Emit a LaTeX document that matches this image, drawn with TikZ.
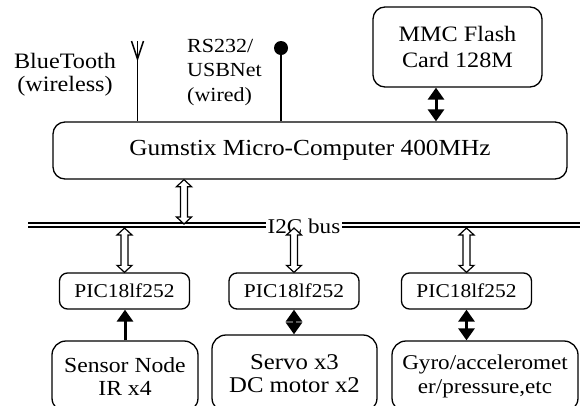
\documentclass[tikz,border=0pt]{standalone}
\usepackage{fontspec}
\setmainfont{Liberation Serif}[FakeStretch=1.1]
\usetikzlibrary{arrows.meta,calc}
\tikzset{
  box/.style={draw, line width=1.3pt, rounded corners=12pt, inner sep=0pt, align=center},
  picbox/.style={box, rounded corners=8pt, minimum width=130pt, minimum height=36pt, font=\fontsize{19.5}{21}\selectfont},
  botbox/.style={box, rounded corners=14pt},
  hollow/.style={draw, fill=white, line width=1.2pt, line join=miter},
  blk/.style={line width=3pt, {Triangle[width=16pt,length=12pt]}-{Triangle[width=16pt,length=12pt]}},
  blkone/.style={line width=3pt, -{Triangle[width=16pt,length=12pt]}},
  wire/.style={line width=1.5pt},
  busline/.style={line width=2pt, double distance=2pt}
}
\newcommand\hollowarr[2]{%
  \path let \p1=(#1), \p2=(#2) in
  [hollow] (\x1,\y1) -- ({\x1+7.5pt},{\y1-7pt}) -- ({\x1+3.5pt},{\y1-7pt})
  -- ({\x1+3.5pt},{\y2+7pt}) -- ({\x1+7.5pt},{\y2+7pt}) -- (\x1,\y2)
  -- ({\x1-7.5pt},{\y2+7pt}) -- ({\x1-3.5pt},{\y2+7pt})
  -- ({\x1-3.5pt},{\y1-7pt}) -- ({\x1-7.5pt},{\y1-7pt}) -- cycle;}
\begin{document}
\begin{tikzpicture}[x=1pt,y=-1pt]
\useasboundingbox (0,0) rectangle (580,405);
\clip (0,0) rectangle (580,405);

% main boxes
\node[box, minimum width=514pt, minimum height=57pt, font=\fontsize{23}{26}\selectfont] (gum) at (310,150.5) {Gumstix Micro-Computer 400MHz};
\node[box, minimum width=169pt, minimum height=80pt, font=\fontsize{22}{26}\selectfont] (mmc) at (457.5,47) {MMC Flash\\Card 128M};

\node[picbox] (p1) at (124.5,291) {PIC18lf252};
\node[picbox] (p2) at (294,291) {PIC18lf252};
\node[picbox] (p3) at (466.5,291) {PIC18lf252};

\node[botbox, minimum width=146pt, minimum height=71pt, font=\fontsize{21.5}{23}\selectfont] (sen) at (125,376.5) {Sensor Node\\IR x4};
\node[botbox, minimum width=165pt, minimum height=77pt, font=\fontsize{22.5}{23.5}\selectfont] (srv) at (294.5,373.5) {Servo x3\\DC motor x2};
\node[botbox, minimum width=186pt, minimum height=71pt, font=\fontsize{21}{24}\selectfont] (gyr) at (485,376.5) {Gyro/acceleromet\\er/pressure,etc};

% labels
\node[font=\fontsize{22}{23}\selectfont, align=center, inner sep=0pt] (bt) at (65,74.5) {BlueTooth\\(wireless)};
\node[font=\fontsize{20}{24.5}\selectfont, align=left, anchor=west, inner sep=0pt] (rs) at (187,72.5) {RS232/\\USBNet\\(wired)};

% antenna
\coordinate (ant) at (137.5,41);
\coordinate (antV) at (137.5,59);
\draw[wire] (ant) -- (ant |- gum.north);
\draw[wire] ([xshift=-6pt]ant) -- (antV) -- ([xshift=6pt]ant);

% wired connector
\node[circle, fill, minimum size=14pt, inner sep=0pt] (dot) at (281,48) {};
\draw[wire] (dot.center) -- (dot.center |- gum.north);

% MMC arrow
\coordinate (ma) at (436,0);
\draw[blk] (ma |- mmc.south) -- (ma |- gum.north);

% I2C bus
\coordinate (busL) at (28,225);
\coordinate (busR) at (590,225);
\coordinate (busB) at (0,228);
\draw[busline] (busL) -- (busR);
\node[fill=white, inner xsep=1.5pt, inner ysep=0pt, font=\fontsize{21}{22}\selectfont] (buslbl) at (304,226.5) {I2C bus};

% hollow bus arrows
\coordinate (gb) at (184,224);
\hollowarr{gb |- gum.south}{gb}
\hollowarr{p1.north |- busB}{p1.north}
\hollowarr{p2.north |- busB}{p2.north}
\hollowarr{p3.north |- busB}{p3.north}

% device arrows
\draw[blkone] (sen.north) -- (sen.north |- p1.south);
\draw[blk] (p2.south) -- (p2.south |- srv.north);
\draw[blk] (p3.south) -- (p3.south |- gyr.north);
\end{tikzpicture}
\end{document}
